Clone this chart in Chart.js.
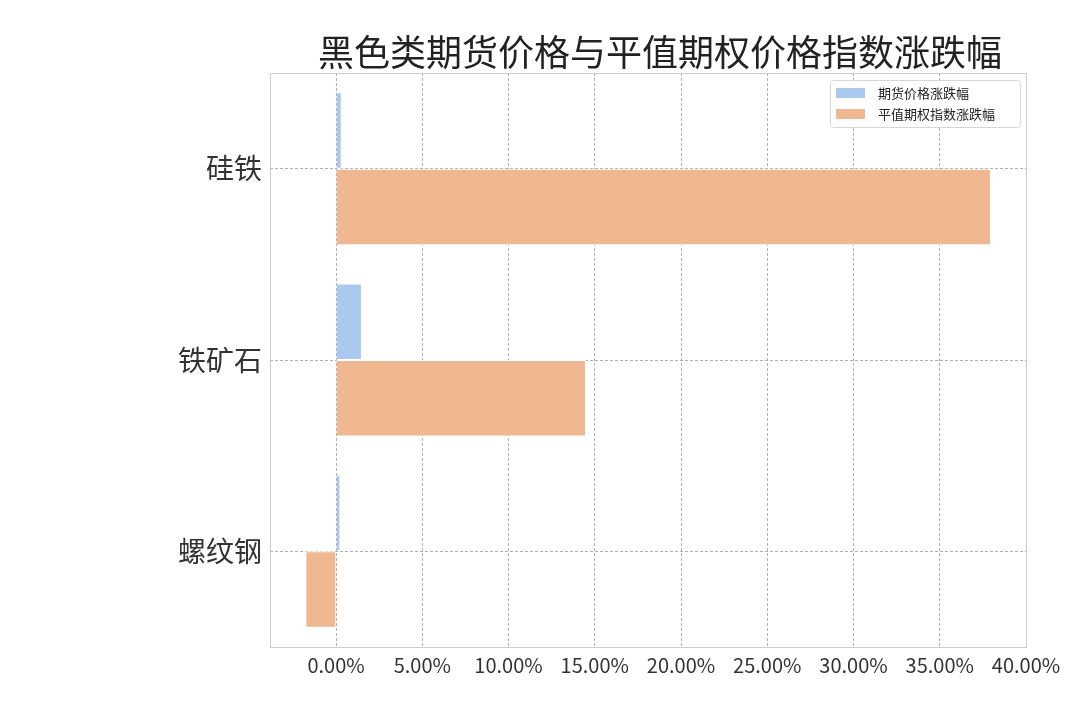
<!DOCTYPE html>
<html>
<head>
  <title>黑色类期货价格与平值期权价格指数涨跌幅</title>
  <script src="https://cdn.jsdelivr.net/npm/chart.js"></script>
  <style>
    html, body { margin: 0; padding: 0; background: #fff; }
    #wrap { width: 1080px; height: 720px; }
  </style>
</head>
<body>
  <div id="wrap"><canvas id="chart" width="1080" height="720"></canvas></div>
  <script>
    const titleText = '黑色类期货价格与平值期权价格指数涨跌幅';
    const categories = ['硅铁', '铁矿石', '螺纹钢'];
    const futuresChange = [0.33, 1.5, 0.25];     // 期货价格涨跌幅 (%)
    const optionIndexChange = [37.97, 14.49, -1.78]; // 平值期权指数涨跌幅 (%)
    const xTicks = [0, 5, 10, 15, 20, 25, 30, 35, 40];

    const cjk = '"Noto Sans CJK SC", "Noto Sans", sans-serif';

    // title over the plot area, legend box inside it, and the frame
    const decor = {
      id: 'decor',
      afterDraw(chart) {
        const ctx = chart.ctx;
        const a = chart.chartArea;
        ctx.save();
        ctx.strokeStyle = '#cccccc';
        ctx.lineWidth = 1;
        ctx.strokeRect(a.left + 0.5, a.top + 0.5, a.right - a.left, a.bottom - a.top);

        ctx.fillStyle = '#222';
        ctx.font = '36px ' + cjk;
        ctx.textAlign = 'center';
        ctx.textBaseline = 'middle';
        ctx.fillText(titleText, (a.left + a.right) / 2 + 12, 52);

        // legend
        const bx = 830, by = 80, bw = 190, bh = 47;
        ctx.fillStyle = 'rgba(255,255,255,0.85)';
        ctx.strokeStyle = '#d6d6d6';
        ctx.beginPath();
        ctx.roundRect(bx + 0.5, by + 0.5, bw, bh, 3);
        ctx.fill();
        ctx.stroke();
        ctx.font = '13px ' + cjk;
        ctx.textAlign = 'left';
        chart.data.datasets.forEach((ds, i) => {
          const cy = by + 13 + i * 21;
          ctx.fillStyle = ds.backgroundColor;
          ctx.fillRect(836, cy - 5, 29, 10);
          ctx.fillStyle = '#222';
          ctx.fillText(ds.label, 878, cy);
        });
        ctx.restore();
      }
    };

    new Chart(document.getElementById('chart').getContext('2d'), {
      type: 'bar',
      data: {
        labels: categories,
        datasets: [
          {
            label: '期货价格涨跌幅',
            data: futuresChange,
            backgroundColor: '#abc9ee',
            borderColor: '#ffffff',
            borderWidth: 1,
            categoryPercentage: 0.8,
            barPercentage: 1
          },
          {
            label: '平值期权指数涨跌幅',
            data: optionIndexChange,
            backgroundColor: '#f0b891',
            borderColor: '#ffffff',
            borderWidth: 1,
            categoryPercentage: 0.8,
            barPercentage: 1
          }
        ]
      },
      options: {
        indexAxis: 'y',
        responsive: false,
        animation: false,
        layout: { padding: { top: 73, right: 54, left: 0, bottom: 0 } },
        plugins: {
          legend: { display: false },
          title: { display: false },
          tooltip: { enabled: false }
        },
        scales: {
          x: {
            type: 'linear',
            min: -3.83,
            max: 40,
            afterBuildTicks: axis => { axis.ticks = xTicks.map(v => ({ value: v })); },
            border: { display: false, dash: [3, 2] },
            grid: { color: '#b0b0b0', tickLength: 0 },
            ticks: {
              color: '#333',
              font: { family: cjk, size: 20 },
              padding: 6,
              maxRotation: 0,
              autoSkip: false,
              callback: v => v.toFixed(2) + '%'
            },
            afterFit: scale => { scale.height = 73; }
          },
          y: {
            border: { display: false, dash: [3, 2] },
            grid: { color: '#b0b0b0', offset: false, tickLength: 0 },
            ticks: {
              color: '#333',
              font: { family: cjk, size: 28 },
              padding: 8
            },
            afterFit: scale => { scale.width = 270; }
          }
        }
      },
      plugins: [decor]
    });
  </script>
</body>
</html>
